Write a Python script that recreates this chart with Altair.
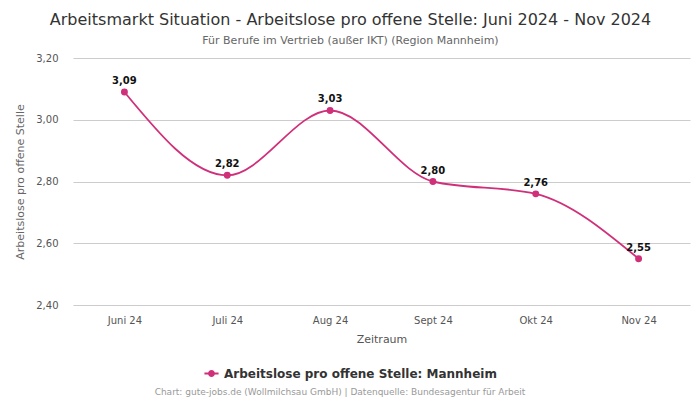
import altair as alt
import pandas as pd

months = ["Juni 24", "Juli 24", "Aug 24", "Sept 24", "Okt 24", "Nov 24"]
values = [3.09, 2.82, 3.03, 2.80, 2.76, 2.55]
series = "Arbeitslose pro offene Stelle: Mannheim"

df = pd.DataFrame({"Monat": months, "Wert": values, "Serie": [series] * len(months)})
color = "#d0307a"
font = "DejaVu Sans"

base = alt.Chart(df).encode(
    x=alt.X("Monat:N", sort=months, scale=alt.Scale(type="point", padding=0.5),
            axis=alt.Axis(title="Zeitraum", labelAngle=0, labelColor="#555", titleColor="#555",
                          labelFontSize=10, titleFontSize=11, titleFont=font, labelFont=font,
                          titleFontWeight="normal",
                          domain=False, ticks=False, labelPadding=10, titlePadding=8, grid=False)),
    y=alt.Y("Wert:Q", scale=alt.Scale(domain=[2.40, 3.20], nice=False, zero=False),
            axis=alt.Axis(title="Arbeitslose pro offene Stelle", values=[2.4, 2.6, 2.8, 3.0, 3.2],
                          labelExpr="replace(format(datum.value, '.2f'), '.', ',')",
                          labelColor="#555", titleColor="#666", labelFontSize=10, titleFontSize=11,
                          labelFont=font, titleFont=font, titleFontWeight="normal",
                          domain=False, ticks=False,
                          labelPadding=15, titlePadding=10, gridColor="#cccccc")),
)

line = base.mark_line(interpolate="monotone", strokeWidth=1.8, color=color).encode(
    color=alt.Color("Serie:N", scale=alt.Scale(range=[color]),
                    legend=alt.Legend(title=None, orient="none", legendX=130, legendY=307,
                                      labelFont=font, labelFontSize=12, labelFontWeight="bold",
                                      labelColor="#333", symbolType="M-1,0L1,0M-0.35,0A0.35,0.35 0 1,1 0.35,0A0.35,0.35 0 1,1 -0.35,0",
                                      symbolSize=200, symbolStrokeWidth=2, symbolFillColor=color,
                                      symbolStrokeColor=color, labelLimit=400))
)
points = base.mark_circle(size=48, color=color, opacity=1)
labels = base.transform_calculate(
    lab="replace(format(datum.Wert, '.2f'), '.', ',')"
).mark_text(dy=-11, fontWeight="bold", fontSize=10, font=font, color="#111").encode(text="lab:N")

footer = alt.Chart(pd.DataFrame({"t": ["Chart: gute-jobs.de (Wollmilchsau GmbH) | Datenquelle: Bundesagentur für Arbeit"]})).mark_text(
    fontSize=9, font=font, color="#999", align="center"
).encode(text="t:N", x=alt.value(308 - 41), y=alt.value(334))

chart = alt.layer(line, points, labels, footer).properties(
    width=617, height=247,
    background="white",
    title=alt.Title(text="Arbeitsmarkt Situation - Arbeitslose pro offene Stelle: Juni 2024 - Nov 2024",
                    subtitle="Für Berufe im Vertrieb (außer IKT) (Region Mannheim)",
                    font=font, fontSize=16, fontWeight="normal", color="#333",
                    subtitleFont=font, subtitleFontSize=11, subtitleColor="#666",
                    anchor="middle", dx=-31, offset=7, subtitlePadding=7),
    autosize=alt.AutoSizeParams(type="none"),
    padding={"left": 65, "top": 50, "right": 2, "bottom": 100},
).configure_view(strokeWidth=0, stroke="transparent")

chart.save("out.html", embed_options={"renderer": "svg", "actions": False})
